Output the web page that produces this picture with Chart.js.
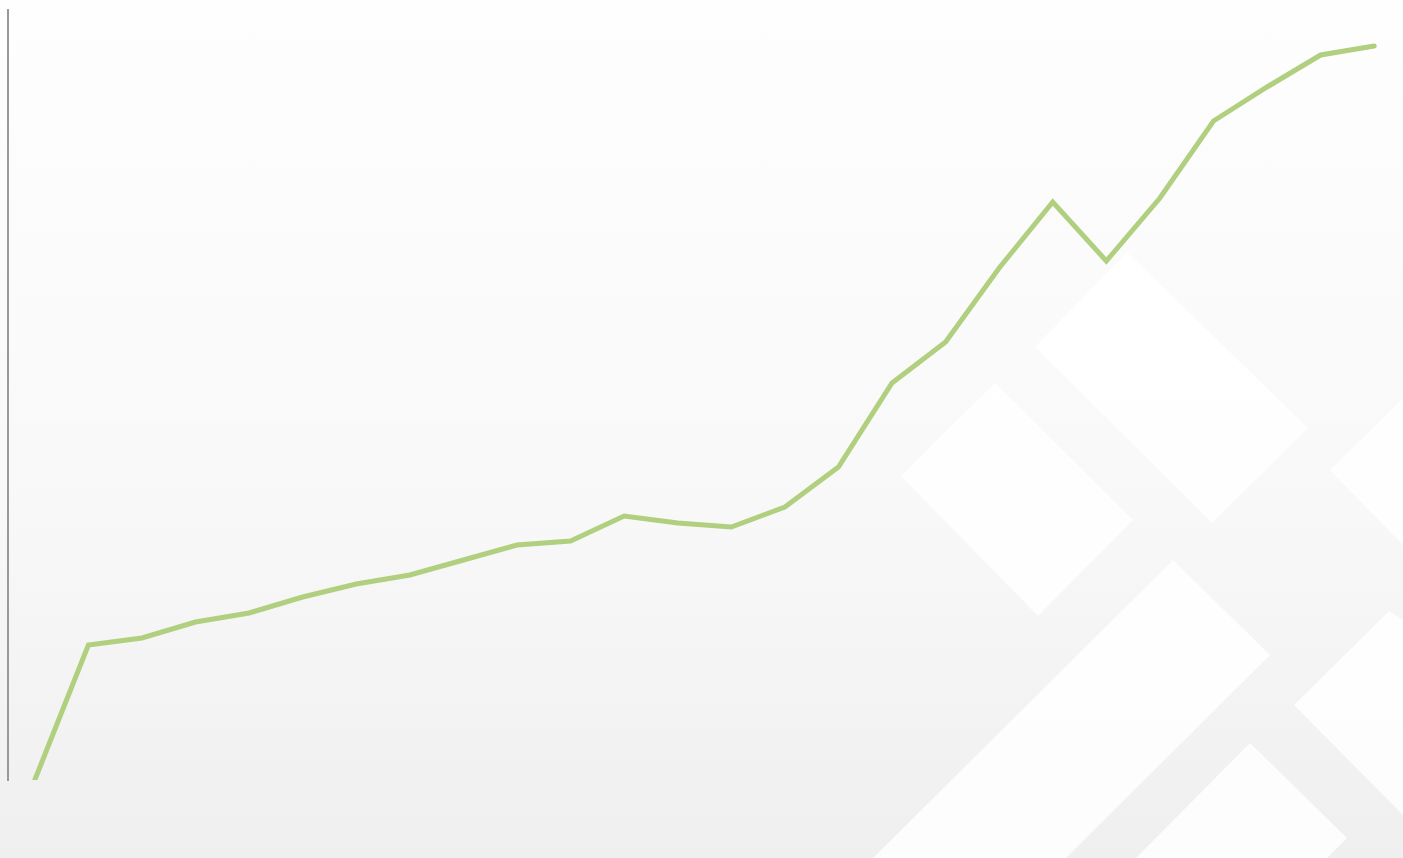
<!DOCTYPE html>
<html>
<head>
<meta charset="utf-8">
<title>Line chart</title>
<script src="https://cdn.jsdelivr.net/npm/chart.js@4/dist/chart.umd.min.js"></script>
<style>
  html, body { margin: 0; padding: 0; }
  body {
    width: 1403px;
    height: 858px;
    overflow: hidden;
    position: relative;
    background: linear-gradient(to bottom, #fefefe 0%, #f8f8f8 60%, #efefef 100%);
  }
  #deco { position: absolute; left: 0; top: 0; }
  #wrap { position: absolute; left: 0; top: 0; width: 1403px; height: 858px; }
</style>
</head>
<body>
<!-- decorative diamonds behind the chart -->
<svg id="deco" width="1403" height="858">
  <g fill="#ffffff" fill-opacity="0.85">
    <polygon points="995,383 1133,520 1038,616 901,476" />
    <polygon points="1127,252 1308,428 1212,523 1035,347" />
    <polygon points="1173,560 1270,655 1066,858 873,858" />
    <polygon points="1250,743 1347,838 1327,858 1136,858" />
    <polygon points="1330,470 1403,398 1403,545" />
    <polygon points="1389,611 1403,620 1403,815 1294,705" />
  </g>
</svg>
<div id="wrap"><canvas id="chart"></canvas></div>
<script>
// Series data
const labels = ["1", "2", "3", "4", "5", "6", "7", "8", "9", "10", "11", "12", "13",
  "14", "15", "16", "17", "18", "19", "20", "21", "22", "23", "24", "25", "26"];
const values = [0, 135, 142, 158, 167, 183, 196, 205, 220, 235, 239, 264, 257,
  253, 273, 313, 397, 438, 512, 578, 519, 582, 659, 693, 725, 734];
const yMin = 0;
const yMax = 770;

const ctx = document.getElementById("chart").getContext("2d");

new Chart(ctx, {
  type: "line",
  data: {
    labels: labels,
    datasets: [
      {
        data: values,
        borderColor: "#b1d07f",
        borderWidth: 5,
        pointRadius: 0,
        tension: 0,
        fill: false,
        borderCapStyle: "round",
      },
    ],
  },
  options: {
    responsive: true,
    maintainAspectRatio: false,
    animation: false,
    layout: {
      padding: { left: 8, top: 10, bottom: 78, right: 2 },
    },
    plugins: {
      legend: { display: false },
      tooltip: { enabled: false },
    },
    scales: {
      x: {
        display: false,
        offset: true,
      },
      y: {
        min: yMin,
        max: yMax,
        ticks: { display: false },
        grid: { display: false, drawTicks: false },
        border: { display: true, color: "#999999", width: 2 },
      },
    },
  },
});
</script>
</body>
</html>
